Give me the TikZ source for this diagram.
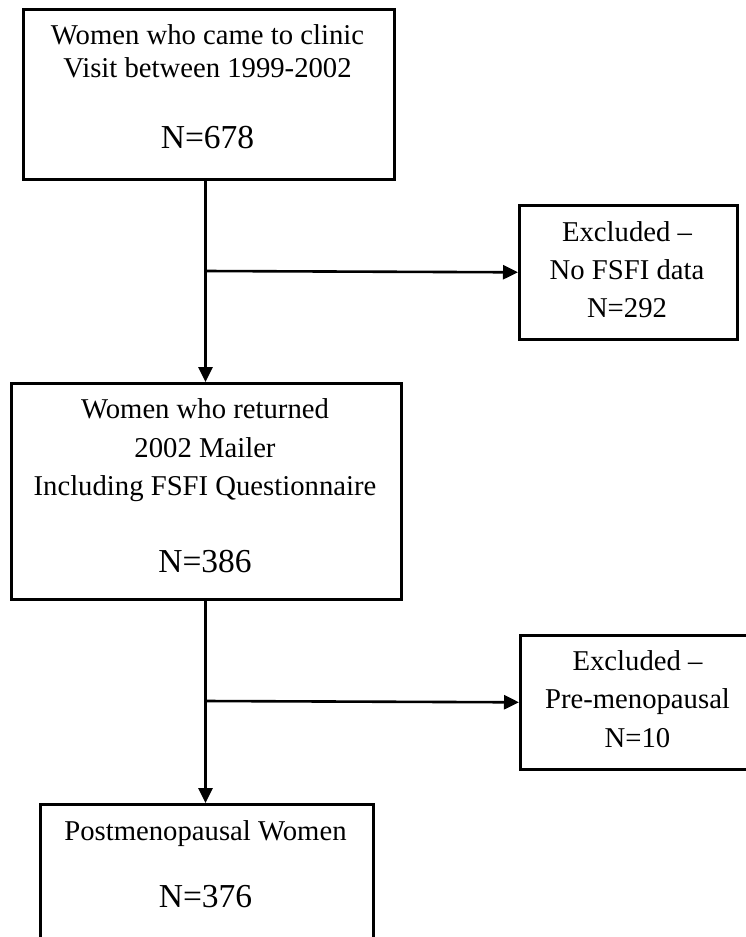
\documentclass[tikz,border=0pt]{standalone}
\usepackage{fontspec}
\setmainfont{Liberation Serif}
\usetikzlibrary{arrows.meta}

\begin{document}
\begin{tikzpicture}[x=1pt,y=-1pt,>={Triangle[length=15pt,width=14pt]},line width=2.6pt]
            \tikzstyle{stage}=[rectangle,draw,line width=2.6pt,inner sep=0pt,anchor=north west]
            \tikzstyle{textline}=[anchor=base,inner sep=0pt,font=\fontsize{28.7}{32}\selectfont]
            \tikzstyle{nline}=[textline,font=\fontsize{33.5}{40}\selectfont]
            \useasboundingbox (0,0) rectangle (746,937);
            % boxes
            \node[stage,minimum width=371,minimum height=170](clinic) at (22,8) {};
            \node[stage,minimum width=218,minimum height=134](nofsfi) at (518,204) {};
            \node[stage,minimum width=390,minimum height=216](mailer) at (10,382) {};
            \node[stage,minimum width=237,minimum height=134](premeno) at (519,634) {};
            \node[stage,minimum width=333,minimum height=200](postmeno) at (39,803) {};
            % texts
            \node[textline](clinic-a) at (207.5,44.5) {Women who came to clinic};
            \node[textline](clinic-b) at (207.5,77) {Visit between 1999-2002};
            \node[nline](clinic-n) at (207.5,148) {N=678};
            \node[textline](nofsfi-a) at (627,241) {Excluded --};
            \node[textline](nofsfi-b) at (627,279) {No FSFI data};
            \node[textline](nofsfi-n) at (627,317) {N=292};
            \node[textline](mailer-a) at (205,418.5) {Women who returned};
            \node[textline](mailer-b) at (205,457) {2002 Mailer};
            \node[textline](mailer-c) at (205,495) {Including FSFI Questionnaire};
            \node[nline](mailer-n) at (205,572) {N=386};
            \node[textline](premeno-a) at (637.5,670) {Excluded --};
            \node[textline](premeno-b) at (637.5,708) {Pre-menopausal};
            \node[textline](premeno-n) at (637.5,747) {N=10};
            \node[textline](postmeno-a) at (205.5,840) {Postmenopausal Women};
            \node[nline](postmeno-n) at (205.5,907) {N=376};
            % connectors
            \coordinate (split1) at (205.5,271);
            \coordinate (split2) at (205.5,701);
            \draw[->] (split1 |- clinic.south) -- (split1 |- mailer.north);
            \draw[->] (split1) -- (nofsfi.west);
            \draw[->] (split2 |- mailer.south) -- (split2 |- postmeno.north);
            \draw[->] (split2) -- (premeno.west);
\end{tikzpicture}
\end{document}
